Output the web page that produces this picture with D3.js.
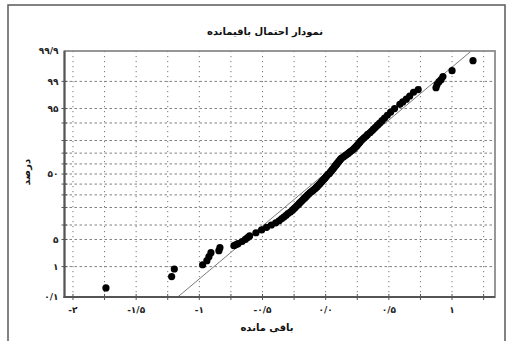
<!DOCTYPE html>
<html><head><meta charset="utf-8">
<script src="https://cdn.jsdelivr.net/npm/d3@7"></script>
<style>body{margin:0;background:#fff}svg{display:block}</style>
</head><body><svg id="c" width="509" height="341"></svg>
<script>
// ---- data ----
const residuals = [
 -1.739,-1.219,-1.198,-0.974,-0.940,-0.924,-0.908,-0.845,-0.837,-0.726,-0.710,-0.694,-0.662,-0.636,-0.618,-0.602,
 -0.552,-0.507,-0.468,-0.430,-0.395,-0.369,-0.349,-0.331,-0.313,-0.298,-0.280,-0.264,-0.253,-0.241,-0.230,-0.219,
 -0.209,-0.199,-0.188,-0.179,-0.169,-0.160,-0.150,-0.142,-0.132,-0.123,-0.112,-0.101,-0.090,-0.081,-0.073,-0.064,
 -0.056,-0.048,-0.041,-0.034,-0.028,-0.021,-0.012,-0.006,0.001,0.007,0.013,0.025,0.031,0.037,0.044,0.050,0.056,
 0.063,0.069,0.075,0.082,0.088,0.094,0.101,0.108,0.114,0.121,0.133,0.144,0.156,0.168,0.180,0.192,0.204,0.217,
 0.226,0.236,0.246,0.254,0.263,0.272,0.281,0.294,0.306,0.321,0.332,0.350,0.364,0.378,0.394,0.410,0.427,0.446,
 0.466,0.488,0.514,0.545,0.587,0.610,0.638,0.665,0.695,0.732,0.873,0.881,0.897,0.913,0.928,1.000,1.166
];
const percents = [
 0.21,0.50,0.85,1.13,1.47,1.89,2.40,2.70,3.20,3.59,3.8,4,4.5,5,5.5,6,
 7,8,9,10,11,12,13,14,15,16,17,18,19,20,21,22,
 23,24,25,26,27,28,29,30,31,32,33,34,35,36,37,38,
 39,40,41,42,43,44,45,46,47,48,49,50,51,52,53,54,55,
 56,57,58,59,60,61,62,63,64,65,66,67,68,69,70,71,72,73,
 74,75,76,77,78,79,80,81,82,83,84,85,86,87,88,89,90,91,
 92,93,94,95,96,96.5,97,97.5,98,98.3,98.49,98.76,98.98,99.11,99.28,99.53,99.78
];
const fitResiduals = [-1.171, 1.152];
const fitPercents = [0.1, 99.9];

const xTickValues = [-2,-1.5,-1,-0.5,0,0.5,1];
const xTickLabels = ["-۲","-۱/۵","-۱","-۰/۵","۰/۰","۰/۵","۱"];
const xGridValues = [-2,-1.75,-1.5,-1.25,-1,-0.75,-0.5,-0.25,0,0.25,0.5,0.75,1,1.25];
const yTickValues = [0.1,1,5,50,95,99,99.9];
const yTickLabels = ["۰/۱","۱","۵","۵۰","۹۵","۹۹","۹۹/۹"];
const yGridValues = [1,5,10,20,30,40,50,60,70,80,90,95,99];

const titleText = "نمودار احتمال باقیمانده";
const xTitle = "باقی مانده";
const yTitle = "درصد";

// ---- helpers ----
function qnorm(p){
  const a=[-3.969683028665376e+01,2.209460984245205e+02,-2.759285104469687e+02,1.383577518672690e+02,-3.066479806614716e+01,2.506628277459239e+00];
  const b=[-5.447609879822406e+01,1.615858368580409e+02,-1.556989798598866e+02,6.680131188771972e+01,-1.328068155288572e+01];
  const c=[-7.784894002430293e-03,-3.223964580411365e-01,-2.400758277161838e+00,-2.549732539343734e+00,4.374664141464968e+00,2.938163982698783e+00];
  const d=[7.784695709041462e-03,3.224671290700398e-01,2.445134137142996e+00,3.754408661907416e+00];
  const pl=0.02425, ph=1-pl; let q,r;
  if(p<pl){q=Math.sqrt(-2*Math.log(p));return (((((c[0]*q+c[1])*q+c[2])*q+c[3])*q+c[4])*q+c[5])/((((d[0]*q+d[1])*q+d[2])*q+d[3])*q+1);}
  if(p>ph){q=Math.sqrt(-2*Math.log(1-p));return -(((((c[0]*q+c[1])*q+c[2])*q+c[3])*q+c[4])*q+c[5])/((((d[0]*q+d[1])*q+d[2])*q+d[3])*q+1);}
  q=p-0.5;r=q*q;return (((((a[0]*r+a[1])*r+a[2])*r+a[3])*r+a[4])*r+a[5])*q/(((((b[0]*r+b[1])*r+b[2])*r+b[3])*r+b[4])*r+1);
}

const L=64.5, R=495, T=51, B=297;
const x = d3.scaleLinear().domain([-2.067, 1.340]).range([L, R]);
const yz = d3.scaleLinear().domain([qnorm(0.001), qnorm(0.999)]).range([B, T]);
const y = p => yz(qnorm(p/100));

const svg = d3.select("#c");
const FONT = "'DejaVu Sans', sans-serif";

// outer frame
svg.append("rect").attr("x",8).attr("y",5).attr("width",497).attr("height",360)
  .attr("fill","#fff").attr("stroke","#5a5a5a").attr("stroke-width",1.5);

svg.append("text").attr("x",265).attr("y",35).attr("text-anchor","middle")
  .attr("font-family",FONT).attr("font-weight","bold").attr("font-size",10).attr("fill","#111").text(titleText);

// clip
svg.append("clipPath").attr("id","pc").append("rect").attr("x",L).attr("y",T).attr("width",R-L).attr("height",B-T);

// grids
const g = svg.append("g");
g.selectAll(".vg").data(xGridValues).join("line")
  .attr("x1",d=>x(d)).attr("x2",d=>x(d)).attr("y1",T).attr("y2",B)
  .attr("stroke","#777").attr("stroke-width",1).attr("stroke-dasharray","1.2,3.8");
g.selectAll(".hg").data(yGridValues).join("line")
  .attr("x1",L).attr("x2",R).attr("y1",d=>y(d)).attr("y2",d=>y(d))
  .attr("stroke","#808080").attr("stroke-width",1).attr("stroke-dasharray","2.5,2.5");

// fitted line
svg.append("line").attr("clip-path","url(#pc)")
  .attr("x1",x(fitResiduals[0])).attr("y1",y(fitPercents[0]))
  .attr("x2",x(fitResiduals[1])).attr("y2",y(fitPercents[1]))
  .attr("stroke","#7a7a7a").attr("stroke-width",1);

// points
svg.append("g").selectAll("circle").data(residuals.map((r,i)=>[r,percents[i]])).join("circle")
  .attr("cx",d=>x(d[0])).attr("cy",d=>y(d[1])).attr("r",3.6).attr("fill","#000");

// plot border
svg.append("rect").attr("x",L).attr("y",T).attr("width",R-L).attr("height",B-T)
  .attr("fill","none").attr("stroke","#8c8c8c").attr("stroke-width",1.8);
svg.append("line").attr("x1",L).attr("x2",L).attr("y1",T).attr("y2",B+1).attr("stroke","#555").attr("stroke-width",2);
svg.append("line").attr("x1",L-1).attr("x2",R).attr("y1",B).attr("y2",B).attr("stroke","#555").attr("stroke-width",2);

// ticks
svg.selectAll(".xt").data(xGridValues).join("line")
  .attr("x1",d=>x(d)).attr("x2",d=>x(d)).attr("y1",B-3).attr("y2",B+3).attr("stroke","#555").attr("stroke-width",1);
svg.selectAll(".yt").data(yGridValues).join("line")
  .attr("x1",L-3).attr("x2",L+3).attr("y1",d=>y(d)).attr("y2",d=>y(d)).attr("stroke","#555").attr("stroke-width",1);

// tick labels
svg.selectAll(".xl").data(xTickValues).join("text")
  .attr("x",d=>x(d)).attr("y",B+16).attr("text-anchor","middle")
  .attr("font-family",FONT).attr("font-weight","bold").attr("font-size",9).attr("fill","#222")
  .text((d,i)=>xTickLabels[i]);
svg.selectAll(".yl").data(yTickValues).join("text")
  .attr("x",L-6).attr("y",d=>y(d)).attr("dy","0.35em").attr("text-anchor","end")
  .attr("font-family",FONT).attr("font-weight","bold").attr("font-size",9).attr("fill","#222")
  .text((d,i)=>yTickLabels[i]);

// axis titles
svg.append("text").attr("x",267).attr("y",331).attr("text-anchor","middle")
  .attr("font-family",FONT).attr("font-weight","bold").attr("font-size",10).attr("fill","#111").text(xTitle);
svg.append("text").attr("transform","translate(30,172) rotate(-90)").attr("text-anchor","middle")
  .attr("font-family",FONT).attr("font-weight","bold").attr("font-size",10).attr("fill","#111").text(yTitle);
</script></body></html>
